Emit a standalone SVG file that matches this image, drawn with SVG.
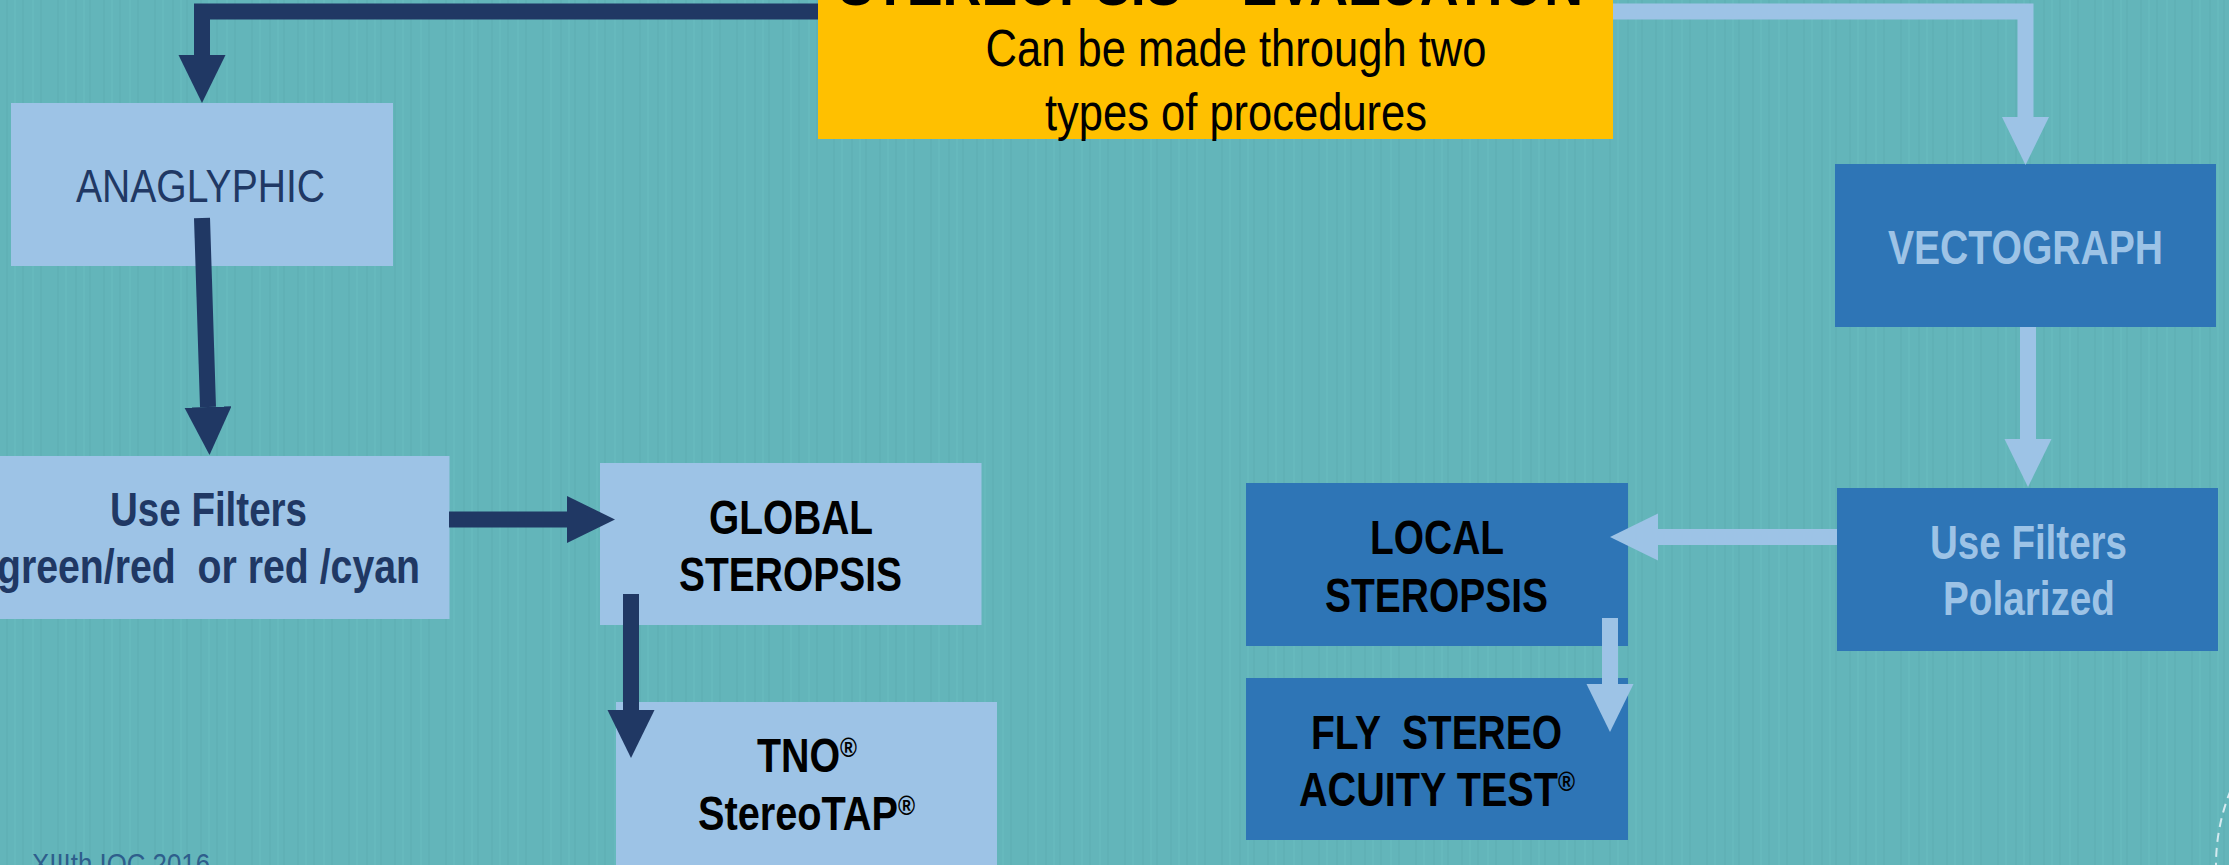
<svg xmlns="http://www.w3.org/2000/svg" width="2229" height="865" viewBox="0 0 2229 865">
<style>
  text { font-family: "Liberation Sans", Arial, sans-serif; text-anchor: middle; white-space: pre; }
  .b { font-weight: bold; font-size: 48px; }
  .navy { fill: #203864; }
  .blk { fill: #000000; }
  .lt { fill: #9DC3E6; }
  .boxL { fill: #9DC3E6; }
  .boxD { fill: #2E75B6; }
  .cD { fill: none; stroke: #203864; stroke-width: 16; stroke-linejoin: miter; marker-end: url(#hD); }
  .cL { fill: none; stroke: #9DC3E6; stroke-width: 16; stroke-linejoin: miter; marker-end: url(#hL); }
</style>
<defs>
  <marker id="hD" markerUnits="userSpaceOnUse" markerWidth="48" markerHeight="48" refX="0" refY="23.5" orient="auto">
    <path d="M0,0 L48,23.5 L0,47 Z" fill="#203864"/>
  </marker>
  <marker id="hL" markerUnits="userSpaceOnUse" markerWidth="48" markerHeight="48" refX="0" refY="23.5" orient="auto">
    <path d="M0,0 L48,23.5 L0,47 Z" fill="#9DC3E6"/>
  </marker>
  <pattern id="tex" width="97" height="865" patternUnits="userSpaceOnUse">
    <rect width="97" height="865" fill="#63B5BA"/>
    <path d="M7,0 V865 M23,0 V865 M41,0 V865 M58,0 V865 M76,0 V865 M90,0 V865" stroke="#5AA9AE" stroke-width="2" opacity="0.35"/>
    <path d="M15,0 V865 M33,0 V865 M66,0 V865 M84,0 V865" stroke="#6CBEC2" stroke-width="2" opacity="0.35"/>
  </pattern>
</defs>
<rect x="0" y="0" width="2229" height="865" fill="url(#tex)"/>

<g id="title">
  <rect x="818" y="-30" width="795" height="169" fill="#FFC000"/>
  <text class="blk" x="1210.5" y="5" style="font-size:64px;font-weight:bold" textLength="745" lengthAdjust="spacingAndGlyphs">STEREOPSIS – EVALUATION</text>
  <text class="blk" x="1236" y="66" style="font-size:52px" textLength="501" lengthAdjust="spacingAndGlyphs">Can be made through two</text>
  <text class="blk" x="1236" y="130" style="font-size:52px" textLength="382" lengthAdjust="spacingAndGlyphs">types of procedures</text>
</g>

<g id="anaglyphic">
  <rect class="boxL" x="11" y="103" width="382" height="163"/>
  <text class="navy" x="200.5" y="202" style="font-size:47px" textLength="249" lengthAdjust="spacingAndGlyphs">ANAGLYPHIC</text>
</g>

<g id="filters-color">
  <rect class="boxL" x="-33" y="456" width="482.5" height="163"/>
  <text class="b navy" x="208.5" y="526" textLength="197" lengthAdjust="spacingAndGlyphs">Use Filters</text>
  <text class="b navy" x="208.5" y="583" textLength="423" lengthAdjust="spacingAndGlyphs">green/red  or red /cyan</text>
</g>

<g id="global">
  <rect class="boxL" x="600" y="463" width="381.5" height="162"/>
  <text class="b blk" x="791" y="534" textLength="164" lengthAdjust="spacingAndGlyphs">GLOBAL</text>
  <text class="b blk" x="790.5" y="591" textLength="223" lengthAdjust="spacingAndGlyphs">STEROPSIS</text>
</g>

<g id="tno">
  <rect class="boxL" x="616" y="702" width="381" height="175"/>
  <text class="b blk" x="807" y="772" textLength="100" lengthAdjust="spacingAndGlyphs">TNO<tspan style="font-size:28px" dy="-15">®</tspan></text>
  <text class="b blk" x="806.5" y="830" textLength="217" lengthAdjust="spacingAndGlyphs">StereoTAP<tspan style="font-size:28px" dy="-15">®</tspan></text>
</g>

<g id="vectograph">
  <rect class="boxD" x="1835" y="164" width="381" height="163"/>
  <text class="b lt" x="2025.5" y="264" textLength="275" lengthAdjust="spacingAndGlyphs">VECTOGRAPH</text>
</g>

<g id="filters-polarized">
  <rect class="boxD" x="1837" y="488" width="381" height="163"/>
  <text class="b lt" x="2028.5" y="559" textLength="197" lengthAdjust="spacingAndGlyphs">Use Filters</text>
  <text class="b lt" x="2029" y="615" textLength="172" lengthAdjust="spacingAndGlyphs">Polarized</text>
</g>

<g id="local">
  <rect class="boxD" x="1246" y="483" width="382" height="163"/>
  <text class="b blk" x="1437" y="554" textLength="134" lengthAdjust="spacingAndGlyphs">LOCAL</text>
  <text class="b blk" x="1436.5" y="612" textLength="223" lengthAdjust="spacingAndGlyphs">STEROPSIS</text>
</g>

<g id="fly">
  <rect class="boxD" x="1246" y="678" width="382" height="162"/>
  <text class="b blk" x="1436.5" y="749" textLength="251" lengthAdjust="spacingAndGlyphs">FLY  STEREO</text>
  <text class="b blk" x="1437" y="806" textLength="276" lengthAdjust="spacingAndGlyphs">ACUITY TEST<tspan style="font-size:28px" dy="-15">®</tspan></text>
</g>

<g id="connectors">
  <path class="cD" d="M818,11.5 H202 V55"/>
  <path class="cD" d="M202,218 L208,407"/>
  <path class="cD" d="M449,519.5 H567"/>
  <path class="cD" d="M631,594 V710"/>
  <path class="cL" d="M1613,11.5 H2025.5 V117"/>
  <path class="cL" d="M2028,327 V439"/>
  <path class="cL" d="M1837,537 H1658"/>
  <path class="cL" d="M1610,618 V684"/>
</g>

<g id="footer">
  <text x="121" y="874" style="font-size:30px;fill:#2E5E8C" textLength="178" lengthAdjust="spacingAndGlyphs">XIIIth IOC 2016</text>
  <circle cx="2414" cy="865" r="198" fill="none" stroke="#D5EAF0" stroke-width="2" stroke-dasharray="9 6"/>
</g>
</svg>
